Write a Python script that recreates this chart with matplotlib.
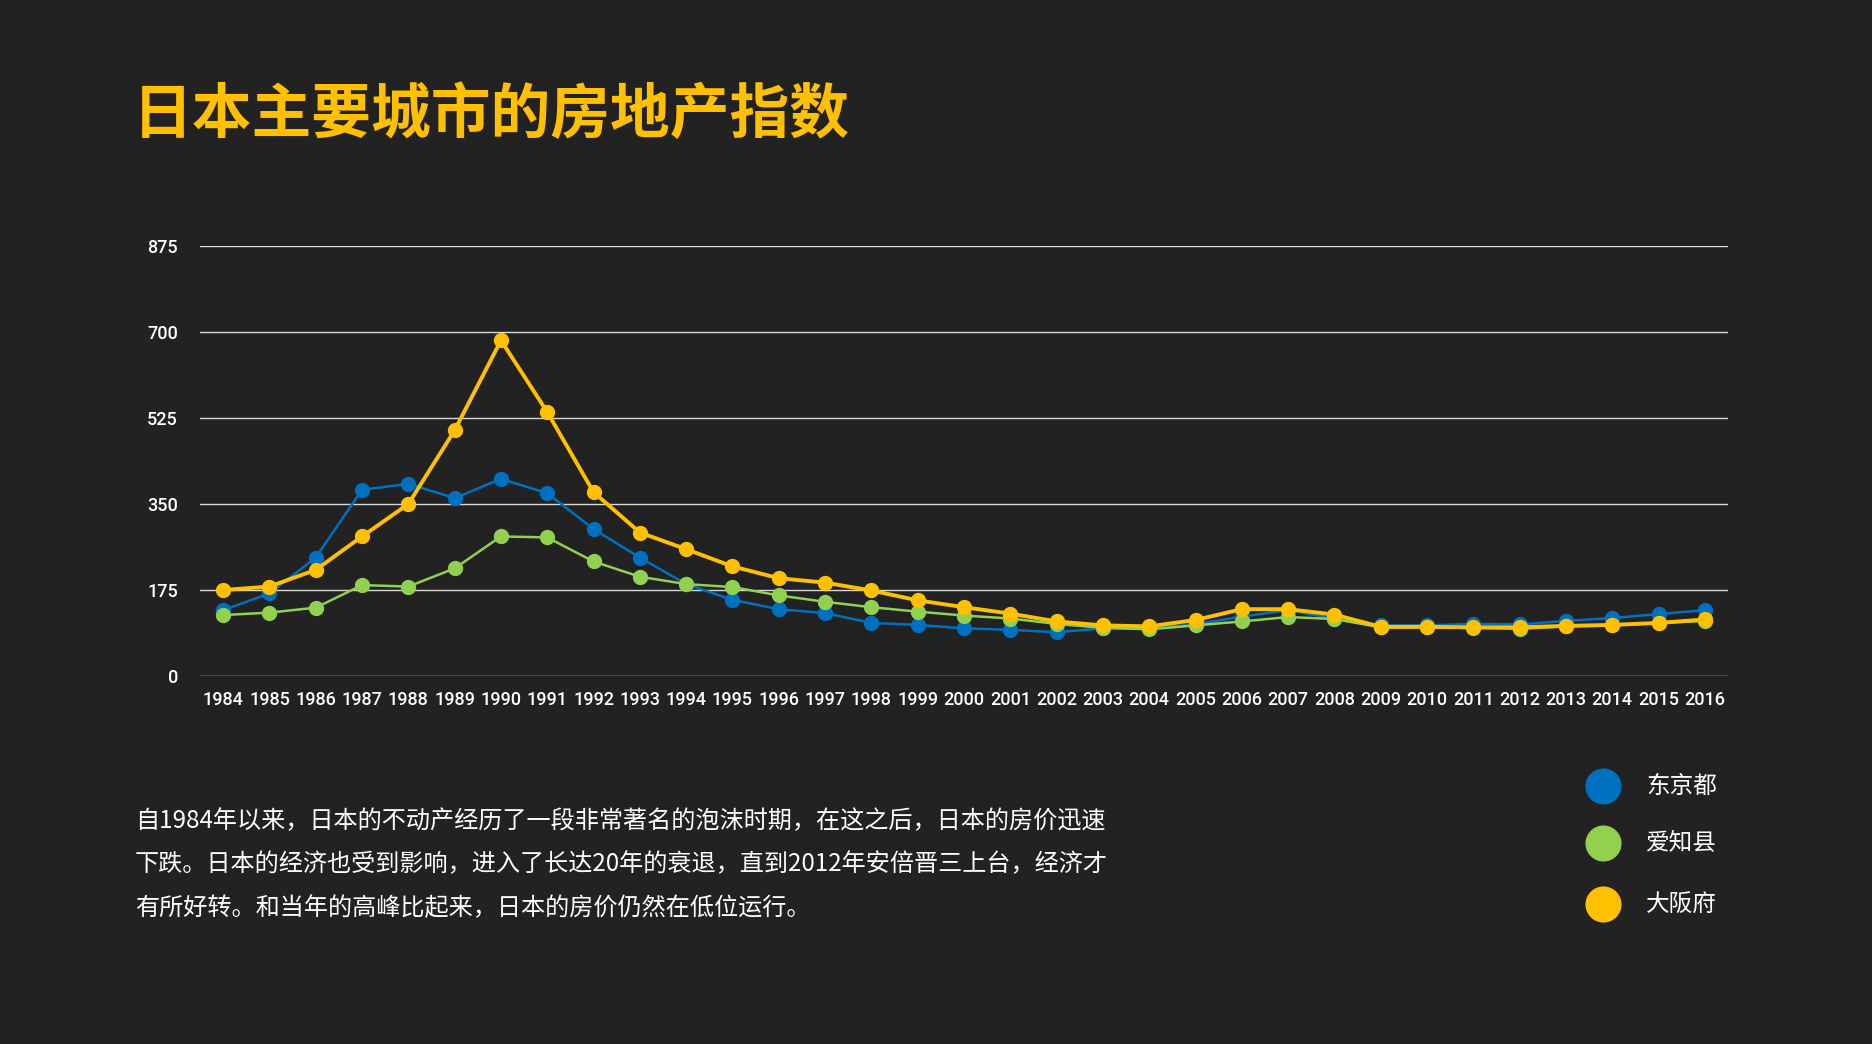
import matplotlib
matplotlib.use("Agg")
import matplotlib.pyplot as plt
from matplotlib.lines import Line2D

plt.rcParams['font.family'] = ['Noto Sans CJK SC', 'DejaVu Sans']

years = list(range(1984, 2017))
year_labels = [str(y) for y in years]
tokyo = [134, 168, 241, 379, 391, 362, 401, 372, 299, 241, 187, 155, 136, 128, 108, 104,
         97, 94, 89, 97, 97, 105, 121, 134, 117, 103, 103, 106, 105, 112, 118, 126, 134]
aichi = [124, 129, 139, 185, 182, 219, 284, 282, 233, 202, 187, 181, 164, 151, 140, 131,
         123, 117, 106, 98, 95, 103, 111, 120, 116, 99, 99, 98, 96, 101, 103, 108, 112]
osaka = [175, 182, 216, 284, 350, 500, 683, 537, 374, 292, 258, 223, 199, 190, 174, 154,
         140, 127, 111, 103, 101, 114, 136, 136, 125, 100, 100, 99, 99, 102, 104, 108, 115]
series_names = ['东京都', '爱知县', '大阪府']
y_ticks = [0, 175, 350, 525, 700, 875]

title = '日本主要城市的房地产指数'
paragraph = ['自1984年以来，日本的不动产经历了一段非常著名的泡沫时期，在这之后，日本的房价迅速',
             '下跌。日本的经济也受到影响，进入了长达20年的衰退，直到2012年安倍晋三上台，经济才',
             '有所好转。和当年的高峰比起来，日本的房价仍然在低位运行。']

BG = '#222222'
BLUE = '#0070C0'
GREEN = '#92D050'
GOLD = '#FFC000'

W, H = 1872, 1044
fig = plt.figure(figsize=(W / 100, H / 100), dpi=100, facecolor=BG)
ax = fig.add_axes([200 / W, 1 - 676 / H, (1728 - 200) / W, (676 - 246) / H])
ax.set_facecolor(BG)

ax.plot(years, tokyo, color=BLUE, lw=1.8, marker='o', ms=10, zorder=3)
ax.plot(years, aichi, color=GREEN, lw=1.8, marker='o', ms=10, zorder=4)
ax.plot(years, osaka, color=GOLD, lw=2.8, marker='o', ms=10, zorder=5)

ax.set_xlim(1983.5, 2016.5)
ax.set_ylim(0, 875)
ax.set_yticks(y_ticks)
ax.set_yticklabels([str(v) for v in y_ticks])
ax.set_xticks(years)
ax.set_xticklabels(year_labels)
ax.grid(axis='y', color='#D9D9D9', lw=1.0)
ax.set_axisbelow(True)
for s in ax.spines.values():
    s.set_visible(False)
ax.tick_params(length=0, colors='white', labelsize=13)
ax.tick_params(axis='y', pad=16)
ax.tick_params(axis='x', pad=11)
for lab in ax.get_xticklabels() + ax.get_yticklabels():
    lab.set_family(['Roboto', 'DejaVu Sans'])
    lab.set_fontweight('medium')
    lab.set_color('white')

fig.text(133 / W, 1 - 117 / H, title, color=GOLD, fontsize=43, fontweight='heavy',
         va='center', ha='left')

for i, line in enumerate(paragraph):
    fig.text(135 / W, 1 - (821 + 43.5 * i) / H, line, color='white', fontsize=17.4,
             fontweight='medium', va='center', ha='left')

legend_y = [786, 843, 904]
for name, col, yy in zip(series_names, [BLUE, GREEN, GOLD], legend_y):
    fig.add_artist(Line2D([1603 / W], [1 - yy / H], marker='o', ms=25, color=col,
                          lw=0, transform=fig.transFigure))
    fig.text(1646 / W, 1 - yy / H, name, color='white', fontsize=17, fontweight='medium',
             va='center', ha='left')

fig.savefig('out.png', dpi=100, facecolor=BG)
